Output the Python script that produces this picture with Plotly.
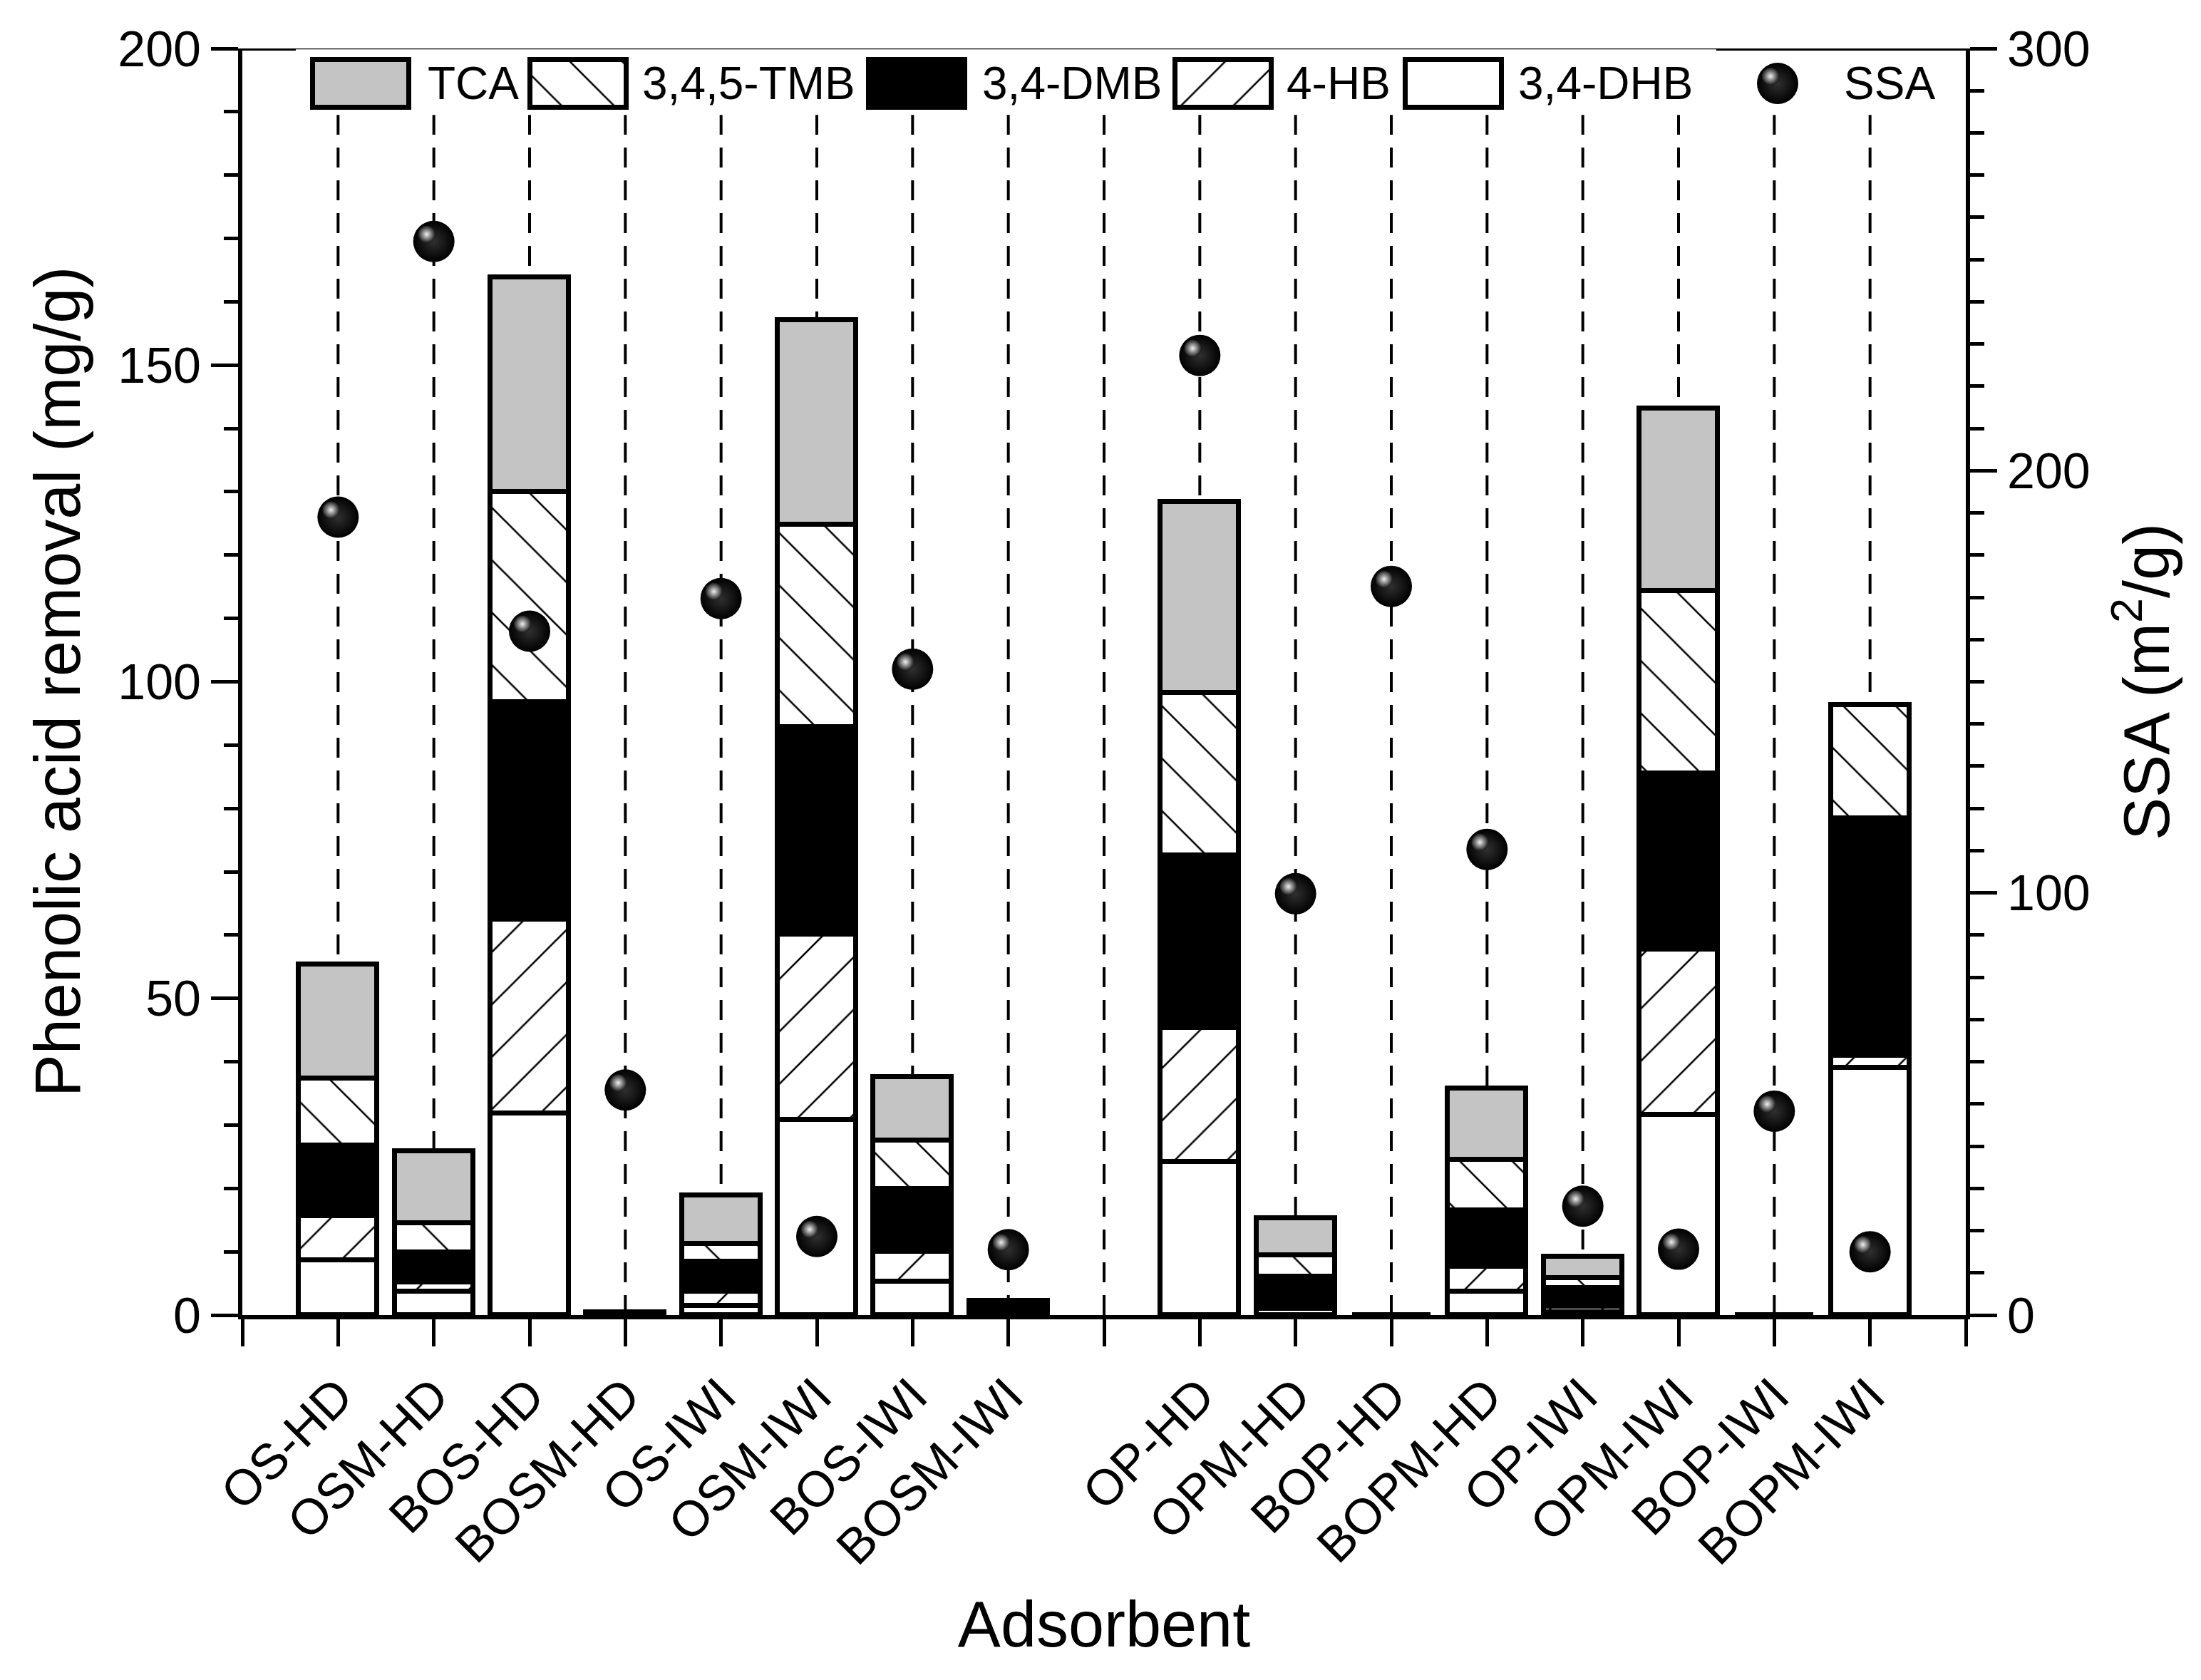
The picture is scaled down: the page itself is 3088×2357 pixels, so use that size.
import plotly.graph_objects as go

# ---------------- data ----------------
x_labels = ["OS-HD", "OSM-HD", "BOS-HD", "BOSM-HD", "OS-IWI", "OSM-IWI", "BOS-IWI", "BOSM-IWI", "",
            "OP-HD", "OPM-HD", "BOP-HD", "BOPM-HD", "OP-IWI", "OPM-IWI", "BOP-IWI", "BOPM-IWI"]
dhb = [8.7, 3.7, 31.9, 0.0, 1.5, 30.8, 5.3, 0.3, None, 24.2, 1.0, 0.0, 3.7, 0.4, 31.6, 0.0, 39.1]
hb = [6.9, 1.5, 30.6, 0.0, 2.2, 29.3, 4.7, 0.0, None, 21.2, 0.5, 0.0, 4.0, 1.0, 26.1, 0.0, 1.9]
dmb = [11.2, 4.7, 34.3, 0.4, 4.7, 32.8, 9.9, 1.9, None, 27.2, 4.6, 0.0, 8.9, 2.9, 27.8, 0.0, 37.5]
tmb = [10.6, 4.6, 33.2, 0.0, 2.9, 31.9, 7.7, 0.0, None, 25.6, 3.3, 0.0, 7.9, 1.5, 28.9, 0.0, 17.8]
tca = [18.0, 11.4, 33.9, 0.0, 7.6, 32.3, 10.0, 0.0, None, 30.2, 5.9, 0.0, 11.3, 3.4, 28.8, 0.0, 0.0]
ssa = [189.0, 254.3, 162.0, 53.3, 169.7, 18.6, 153.0, 15.5, None, 227.3, 99.8, 172.6, 110.3, 25.8, 15.6, 48.3, 15.0]

series_names = ["TCA", "3,4,5-TMB", "3,4-DMB", "4-HB", "3,4-DHB"]

# ---------------- style ----------------
FONT = "Liberation Sans, Arial, Helvetica, sans-serif"
W, H = 3088, 2357
L, R, T, B = 332, 2750, 60, 1837          # plot-area pixel box
GRAY = "#c4c4c4"
LW = 7
BAR_W = 0.82
HATCH = dict(size=52, solidity=0.05)

styles = {
    "TCA": dict(color=GRAY, shape=""),
    "3,4,5-TMB": dict(color="white", shape="\\"),
    "3,4-DMB": dict(color="black", shape=""),
    "4-HB": dict(color="white", shape="/"),
    "3,4-DHB": dict(color="white", shape=""),
}
values = {"TCA": tca, "3,4,5-TMB": tmb, "3,4-DMB": dmb, "4-HB": hb, "3,4-DHB": dhb}

xpos = list(range(len(x_labels)))
label_pos = [i for i, s in zip(xpos, x_labels) if s]
label_txt = [s for s in x_labels if s]


def marker_for(name):
    st = styles[name]
    m = dict(color=st["color"], line=dict(color="black", width=LW))
    if st["shape"]:
        m["pattern"] = dict(shape=st["shape"], fgcolor="black", bgcolor=st["color"],
                            fillmode="replace", **HATCH)
    return m


fig = go.Figure()

# stacked bars, bottom to top
for name in ["3,4-DHB", "4-HB", "3,4-DMB", "3,4,5-TMB", "TCA"]:
    fig.add_trace(go.Bar(x=xpos, y=values[name], name=name, width=BAR_W,
                         marker=marker_for(name), showlegend=False))

BALL = dict(size=58, color="black", line=dict(width=0),
            gradient=dict(type="radial", color="#303030"))
SHINE = dict(size=24, color="#1c1c1c", line=dict(width=0),
             gradient=dict(type="radial", color="#f0f0f0"))

fig.add_trace(go.Scatter(x=xpos, y=ssa, mode="markers", name="SSA", yaxis="y2",
                         marker=BALL, showlegend=False))
# highlight spot of each sphere (same data, on a slightly offset overlay axis)
fig.add_trace(go.Scatter(x=xpos, y=ssa, mode="markers", xaxis="x4", yaxis="y4",
                         marker=SHINE, showlegend=False, hoverinfo="skip"))

# ---------------- hand-drawn legend (pixel space overlay axes) ----------------
box_centers = [498, 803, 1278, 1708, 2031]
text_starts = [590, 891, 1368, 1795, 2120]
box_w = 135
box_top, box_bot = 75.5, 142.5
leg_y = (box_top + box_bot) / 2
for name, cx, tx in zip(series_names, box_centers, text_starts):
    fig.add_trace(go.Bar(x=[cx], y=[box_bot - box_top], base=[box_top], width=box_w,
                         xaxis="x3", yaxis="y3", marker=marker_for(name),
                         showlegend=False, hoverinfo="skip"))
    fig.add_annotation(x=tx, y=leg_y, xref="x3", yref="y3", text=name, showarrow=False,
                       xanchor="left", yanchor="middle", font=dict(family=FONT, size=64, color="black"))
fig.add_trace(go.Scatter(x=[2486], y=[leg_y], mode="markers", xaxis="x3", yaxis="y3",
                         marker=BALL, showlegend=False, hoverinfo="skip"))
fig.add_trace(go.Scatter(x=[2476], y=[leg_y - 10], mode="markers", xaxis="x3", yaxis="y3",
                         marker=SHINE, showlegend=False, hoverinfo="skip"))
fig.add_annotation(x=2577, y=leg_y, xref="x3", yref="y3", text="SSA", showarrow=False,
                   xanchor="left", yanchor="middle", font=dict(family=FONT, size=64, color="black"))

# dashed drop lines at every category slot
for xi in xpos:
    fig.add_shape(type="line", x0=xi, x1=xi, y0=0, y1=189.5, xref="x", yref="y",
                  line=dict(color="black", width=4, dash="28px,18px"), layer="below")

# top frame: thick at the ends, thin behind the legend
for x0, x1, w in [(L, 407, 6), (407, 2400, 2.5), (2400, R, 6)]:
    fig.add_shape(type="line", x0=x0, x1=x1, y0=T, y1=T, xref="x3", yref="y3",
                  line=dict(color="black", width=w), layer="above")

tick_font = dict(family=FONT, size=70, color="black")
title_font = dict(family=FONT, size=90, color="black")
xr = [-1, len(x_labels)]
dx = 10 * (xr[1] - xr[0]) / (R - L)
dy = 10 * 300 / (B - T)

fig.update_layout(
    width=W, height=H,
    margin=dict(l=L, r=W - R, t=T, b=H - B),
    paper_bgcolor="white", plot_bgcolor="white",
    barmode="stack", bargap=0,
    font=dict(family=FONT, color="black"),
    xaxis=dict(range=xr, tickmode="array", tickvals=label_pos, ticktext=label_txt,
               tickangle=-45, tickfont=tick_font,
               ticks="outside", ticklen=38, tickwidth=5, tickcolor="black",
               minor=dict(tickmode="linear", tick0=xr[0], dtick=1, ticks="outside",
                          ticklen=38, tickwidth=5, tickcolor="black", showgrid=False),
               showline=True, linewidth=6, linecolor="black", showgrid=False, zeroline=False,
               title=dict(text="Adsorbent", font=title_font, standoff=40)),
    yaxis=dict(range=[0, 200], tickmode="linear", tick0=0, dtick=50, tickfont=tick_font,
               ticks="outside", ticklen=38, tickwidth=5, tickcolor="black",
               minor=dict(dtick=10, ticks="outside", ticklen=20, tickwidth=5, tickcolor="black", showgrid=False),
               showline=True, linewidth=6, linecolor="black", showgrid=False, zeroline=False,
               title=dict(text="Phenolic acid removal (mg/g)", font=title_font, standoff=25)),
    yaxis2=dict(range=[0, 300], overlaying="y", side="right", anchor="x",
                tickmode="linear", tick0=0, dtick=100, tickfont=tick_font,
                ticks="outside", ticklen=38, tickwidth=5, tickcolor="black",
                minor=dict(dtick=10, ticks="outside", ticklen=20, tickwidth=5, tickcolor="black", showgrid=False),
                showline=True, linewidth=6, linecolor="black", showgrid=False, zeroline=False,
                title=dict(text="SSA (m<sup>2</sup>/g)", font=title_font, standoff=50)),
    xaxis3=dict(range=[L, R], overlaying="x", anchor="y3", visible=False, fixedrange=True),
    yaxis3=dict(range=[B, T], overlaying="y", anchor="x3", visible=False, fixedrange=True),
    xaxis4=dict(range=[xr[0] + dx, xr[1] + dx], overlaying="x", anchor="y4", visible=False),
    yaxis4=dict(range=[0 - dy, 300 - dy], overlaying="y", anchor="x4", visible=False),
)

fig.write_html("out.html")
